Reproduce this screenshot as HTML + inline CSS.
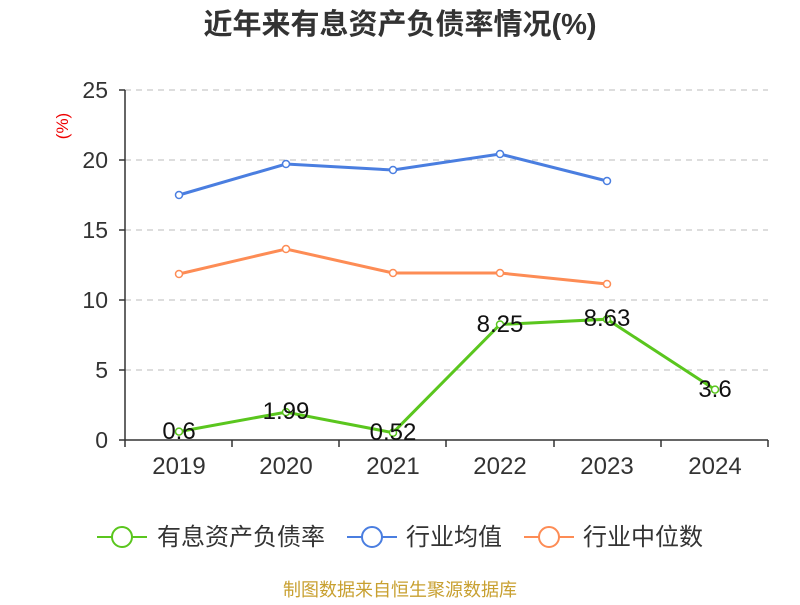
<!DOCTYPE html>
<html><head><meta charset="utf-8"><style>body{margin:0;background:#fff}</style></head><body>
<svg width="800" height="600" xmlns="http://www.w3.org/2000/svg" font-family="Liberation Sans, Noto Sans CJK SC, sans-serif">
<text x="400" y="34" text-anchor="middle" font-size="29" font-weight="bold" fill="#333">近年来有息资产负债率情况(%)</text>
<text transform="translate(68,126) rotate(-90)" text-anchor="middle" font-size="17" fill="#e00">(%)</text>
<g stroke="#bbb" stroke-dasharray="6,5" stroke-width="1">
<line x1="125" y1="90" x2="768" y2="90"/><line x1="125" y1="160" x2="768" y2="160"/><line x1="125" y1="230" x2="768" y2="230"/><line x1="125" y1="300" x2="768" y2="300"/><line x1="125" y1="370" x2="768" y2="370"/>
</g>
<g stroke="#333" stroke-width="1.5">
<line x1="125" y1="90" x2="125" y2="440"/><line x1="125" y1="440" x2="768" y2="440"/>
<line x1="119" y1="90" x2="125" y2="90"/><line x1="119" y1="160" x2="125" y2="160"/><line x1="119" y1="230" x2="125" y2="230"/><line x1="119" y1="300" x2="125" y2="300"/><line x1="119" y1="370" x2="125" y2="370"/><line x1="119" y1="440" x2="125" y2="440"/>
<line x1="125" y1="440" x2="125" y2="447"/><line x1="232" y1="440" x2="232" y2="447"/><line x1="339" y1="440" x2="339" y2="447"/><line x1="446" y1="440" x2="446" y2="447"/><line x1="554" y1="440" x2="554" y2="447"/><line x1="661" y1="440" x2="661" y2="447"/><line x1="768" y1="440" x2="768" y2="447"/>
</g>
<g font-size="23" fill="#333" text-anchor="end">
<text x="108" y="98">25</text><text x="108" y="168">20</text><text x="108" y="238">15</text><text x="108" y="308">10</text><text x="108" y="378">5</text><text x="108" y="448">0</text>
</g>
<g font-size="24" fill="#333" text-anchor="middle">
<text x="179" y="474">2019</text><text x="286" y="474">2020</text><text x="393" y="474">2021</text><text x="500" y="474">2022</text><text x="607" y="474">2023</text><text x="715" y="474">2024</text>
</g>
<g fill="#fff" stroke-width="3">
<polyline fill="none" stroke="#4a7ee0" points="179,195 286,164 393,170 500,154 607,181"/>
<polyline fill="none" stroke="#fd8c55" points="179,274 286,249 393,273 500,273 607,284"/>
<polyline fill="none" stroke="#5ac61e" points="179,431.6 286,412.1 393,432.7 500,324.5 607,319.2 715,389.6"/>
<g stroke="#4a7ee0" stroke-width="1.5"><circle cx="179" cy="195" r="3.5"/><circle cx="286" cy="164" r="3.5"/><circle cx="393" cy="170" r="3.5"/><circle cx="500" cy="154" r="3.5"/><circle cx="607" cy="181" r="3.5"/></g>
<g stroke="#fd8c55" stroke-width="1.5"><circle cx="179" cy="274" r="3.5"/><circle cx="286" cy="249" r="3.5"/><circle cx="393" cy="273" r="3.5"/><circle cx="500" cy="273" r="3.5"/><circle cx="607" cy="284" r="3.5"/></g>
<g stroke="#5ac61e" stroke-width="1.5"><circle cx="179" cy="431.6" r="3.5"/><circle cx="286" cy="412.1" r="3.5"/><circle cx="393" cy="432.7" r="3.5"/><circle cx="500" cy="324.5" r="3.5"/><circle cx="607" cy="319.2" r="3.5"/><circle cx="715" cy="389.6" r="3.5"/></g>
</g>
<g font-size="24" fill="#111" text-anchor="middle">
<text x="179" y="439">0.6</text><text x="286" y="419">1.99</text><text x="393" y="440">0.52</text><text x="500" y="332">8.25</text><text x="607" y="326">8.63</text><text x="715" y="397">3.6</text>
</g>
<g stroke-width="2" fill="#fff">
<line x1="97" y1="537" x2="147" y2="537" stroke="#5ac61e"/><circle cx="122" cy="537" r="10" stroke="#5ac61e"/>
<line x1="347" y1="537" x2="397" y2="537" stroke="#4a7ee0"/><circle cx="372" cy="537" r="10" stroke="#4a7ee0"/>
<line x1="524" y1="537" x2="574" y2="537" stroke="#fd8c55"/><circle cx="549" cy="537" r="10" stroke="#fd8c55"/>
</g>
<g font-size="24" fill="#333">
<text x="157" y="545">有息资产负债率</text><text x="406" y="545">行业均值</text><text x="583" y="545">行业中位数</text>
</g>
<text x="400" y="596" text-anchor="middle" font-size="18" fill="#c8a030">制图数据来自恒生聚源数据库</text>
</svg>
</body></html>
